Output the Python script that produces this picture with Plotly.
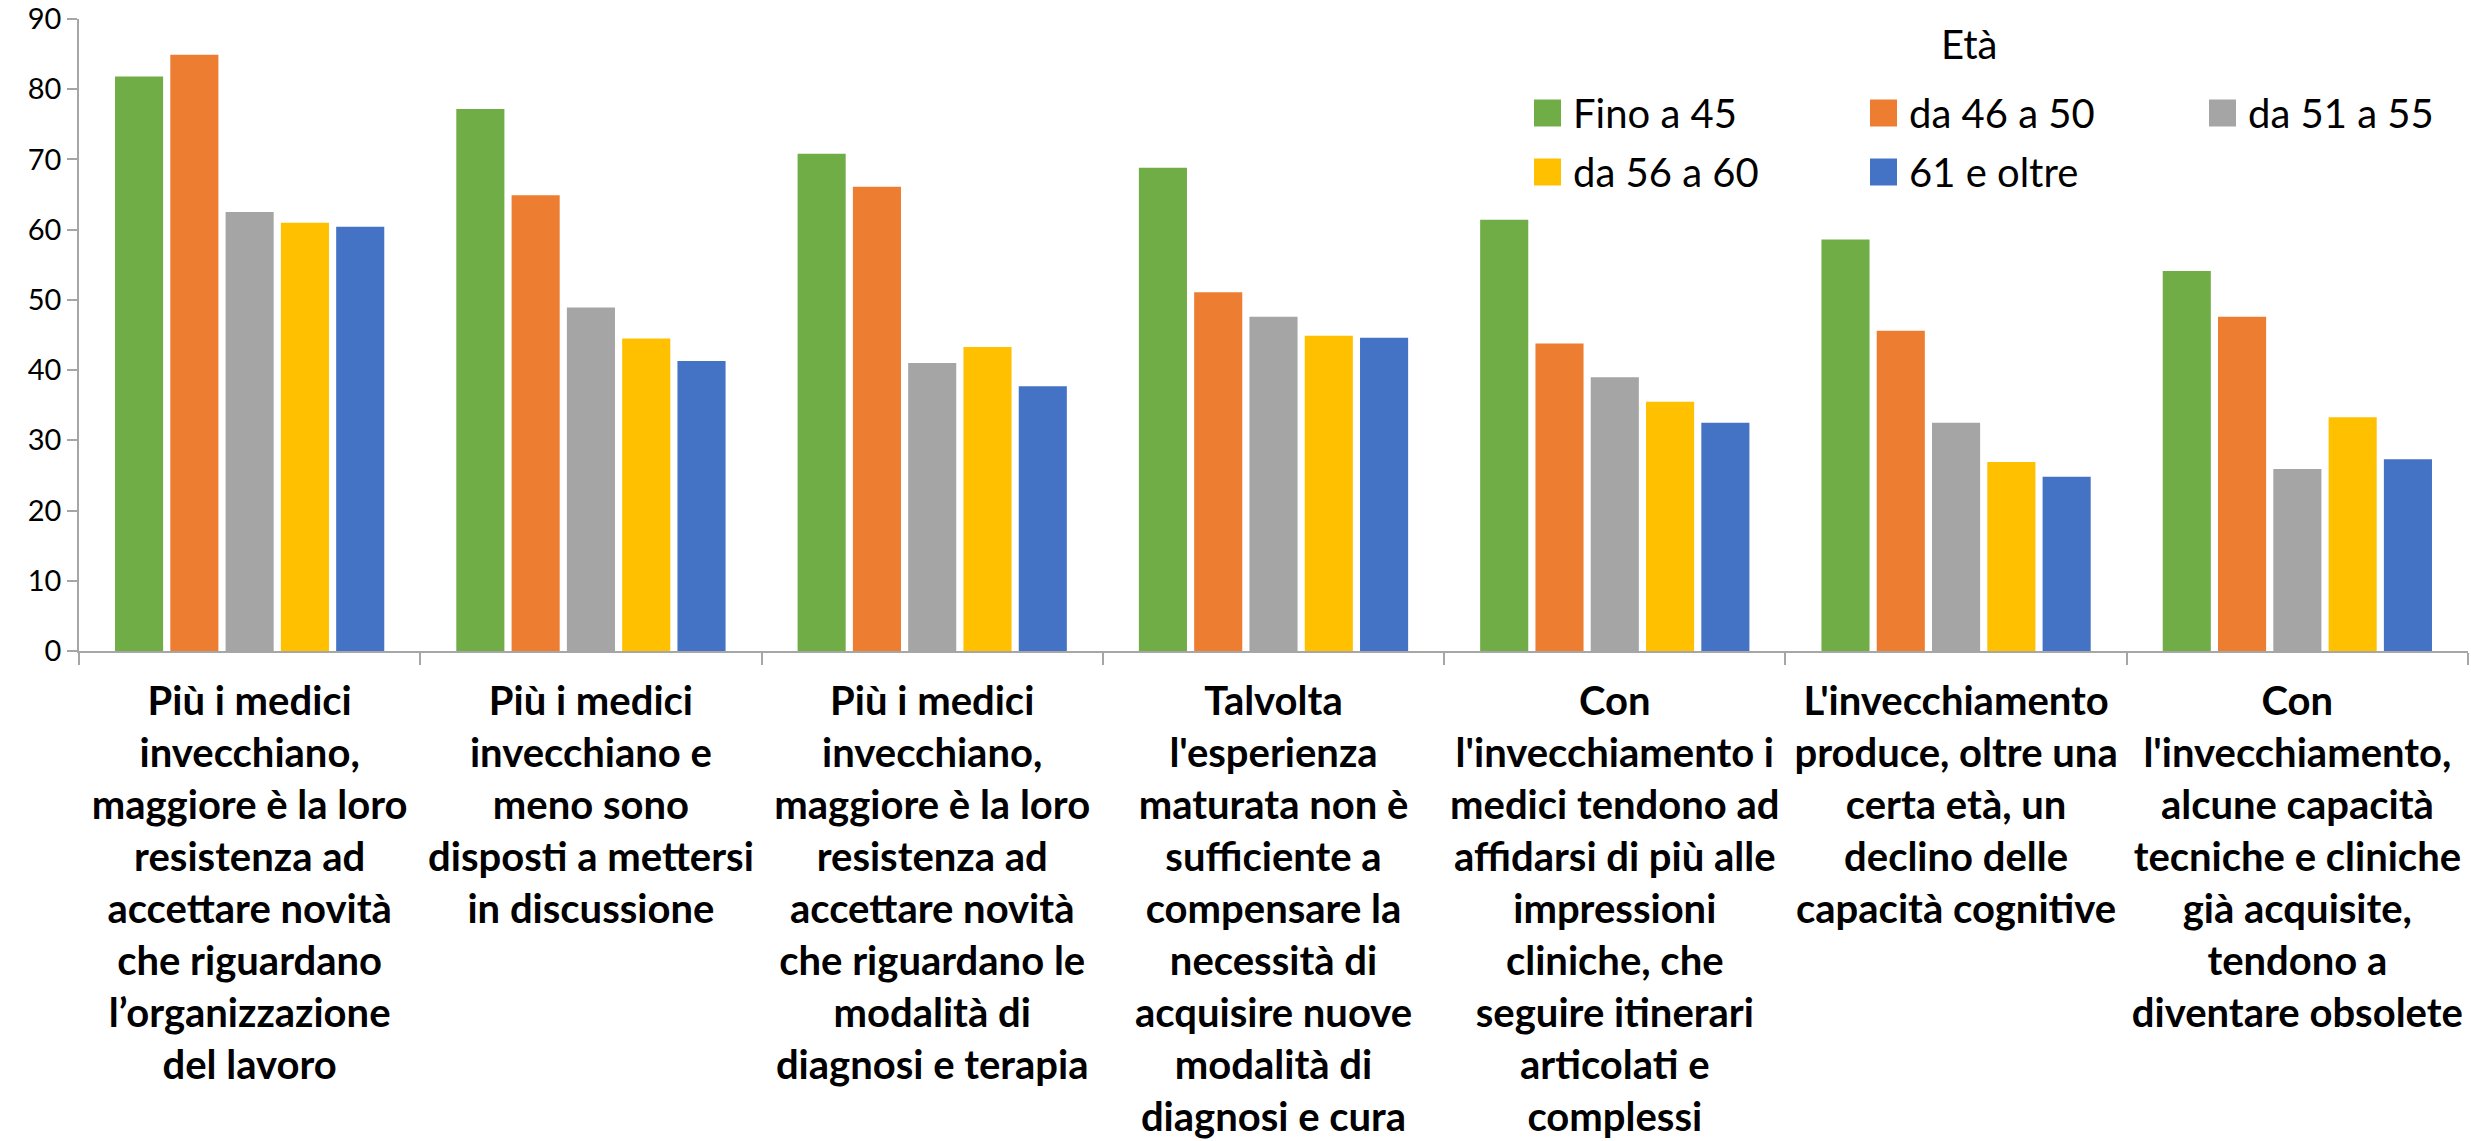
import plotly.graph_objects as go

categories = [
    "Più i medici<br>invecchiano,<br>maggiore è la loro<br>resistenza ad<br>accettare novità<br>che riguardano<br>l’organizzazione<br>del lavoro",
    "Più i medici<br>invecchiano e<br>meno sono<br>disposti a mettersi<br>in discussione",
    "Più i medici<br>invecchiano,<br>maggiore è la loro<br>resistenza ad<br>accettare novità<br>che riguardano le<br>modalità di<br>diagnosi e terapia",
    "Talvolta<br>l'esperienza<br>maturata non è<br>sufficiente a<br>compensare la<br>necessità di<br>acquisire nuove<br>modalità di<br>diagnosi e cura",
    "Con<br>l'invecchiamento i<br>medici tendono ad<br>affidarsi di più alle<br>impressioni<br>cliniche, che<br>seguire itinerari<br>articolati e<br>complessi",
    "L'invecchiamento<br>produce, oltre una<br>certa età, un<br>declino delle<br>capacità cognitive",
    "Con<br>l'invecchiamento,<br>alcune capacità<br>tecniche e cliniche<br>già acquisite,<br>tendono a<br>diventare obsolete",
]

series_names = ["Fino a 45", "da 46 a 50", "da 51 a 55", "da 56 a 60", "61 e oltre"]
series_colors = ["#70AD47", "#ED7D31", "#A5A5A5", "#FFC000", "#4472C4"]

fino_a_45 = [81.8, 77.2, 70.8, 68.8, 61.4, 58.6, 54.1]
da_46_a_50 = [84.9, 64.9, 66.1, 51.1, 43.8, 45.6, 47.6]
da_51_a_55 = [62.5, 48.9, 41.0, 47.6, 39.0, 32.5, 25.9]
da_56_a_60 = [61.0, 44.5, 43.3, 44.9, 35.5, 26.9, 33.3]
oltre_61 = [60.4, 41.3, 37.7, 44.6, 32.5, 24.8, 27.3]

series_values = [fino_a_45, da_46_a_50, da_51_a_55, da_56_a_60, oltre_61]

y_ticks = [0, 10, 20, 30, 40, 50, 60, 70, 80, 90]
legend_title = "Età"

FONT = "Lato, 'Open Sans', sans-serif"
W, H = 2471, 1141
ML, MR, MT, MB = 79, 3, 19, 490
PW = W - ML - MR
PH = H - MT - MB

fig = go.Figure()
for name, color, vals in zip(series_names, series_colors, series_values):
    fig.add_trace(go.Bar(
        x=categories, y=vals, name=name,
        marker=dict(color=color, line=dict(width=0)),
        showlegend=False,
    ))

def px_x(p):
    return (p - ML) / PW

def px_y(p):
    return (H - MB - p) / PH

shapes = []
annotations = []
# manual legend (large square markers as in the reference)
col_x = [1534, 1870, 2209]
row_y = [113, 172]
sq = 27
for i, (name, color) in enumerate(zip(series_names, series_colors)):
    r, c = divmod(i, 3)
    x0 = col_x[c]
    yc = row_y[r]
    shapes.append(dict(type="rect", xref="paper", yref="paper",
                       x0=px_x(x0), x1=px_x(x0 + sq),
                       y0=px_y(yc + sq / 2), y1=px_y(yc - sq / 2),
                       fillcolor=color, line=dict(width=0)))
    annotations.append(dict(xref="paper", yref="paper", x=px_x(x0 + sq + 10), y=px_y(yc),
                            xanchor="left", yanchor="middle", showarrow=False,
                            text=name, font=dict(family=FONT, size=40, color="#000000")))
annotations.append(dict(xref="paper", yref="paper", x=px_x(1969), y=px_y(44),
                        xanchor="center", yanchor="middle", showarrow=False,
                        text=legend_title, font=dict(family=FONT, size=40, color="#000000")))

fig.update_layout(
    width=W, height=H, autosize=False,
    margin=dict(l=ML, r=MR, t=MT, b=MB, pad=0),
    paper_bgcolor="white", plot_bgcolor="white",
    barmode="group", bargap=0.19, bargroupgap=0.13,
    font=dict(family=FONT, color="#000000"),
    shapes=shapes, annotations=annotations,
    showlegend=False,
)
fig.update_xaxes(
    type="category", tickson="boundaries", ticks="outside", ticklen=12,
    tickcolor="#A6A6A6", tickwidth=1.5, showline=True, linecolor="#A6A6A6", linewidth=1.5,
    showgrid=False, zeroline=False,
    tickfont=dict(family=FONT, size=40, color="#000000", weight="bold"),
    tickangle=0, automargin=False, ticklabelstandoff=14,
)
fig.update_yaxes(
    range=[0, 90], tickvals=y_ticks, ticks="outside", ticklen=10,
    tickcolor="#A6A6A6", tickwidth=1.5, showline=True, linecolor="#A6A6A6", linewidth=1.5,
    showgrid=False, zeroline=False,
    tickfont=dict(family=FONT, size=29, color="#000000"),
    automargin=False,
)

fig.write_html("out.html", config={"displayModeBar": False},
               post_script="document.body.style.margin='0';document.body.style.overflow='hidden';")
